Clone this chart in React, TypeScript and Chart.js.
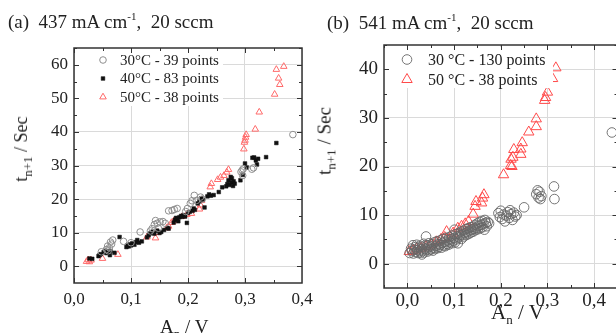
import React, { useEffect, useRef } from 'react';
import { Chart, registerables } from 'chart.js';

Chart.register(...registerables);

const SERIF = '"Liberation Serif", "Times New Roman", serif';

// ---------- Panel (a) : 437 mA cm-1, 20 sccm ----------
const A_X_TICKS = [0.0, 0.1, 0.2, 0.3, 0.4];
const A_Y_TICKS = [0, 10, 20, 30, 40, 50, 60];
const A_LABELS = ['30°C - 39 points', '40°C - 83 points', '50°C - 38 points'];

const A30_X = [0.048, 0.057, 0.059, 0.060, 0.062, 0.064, 0.066, 0.068, 0.087, 0.100, 0.116, 0.134, 0.137, 0.141, 0.143, 0.146, 0.148, 0.151, 0.156, 0.160, 0.166, 0.172, 0.176, 0.181, 0.196, 0.199, 0.204, 0.207, 0.211, 0.215, 0.222, 0.225, 0.293, 0.295, 0.296, 0.297, 0.312, 0.315, 0.384];
const A30_Y = [4.3, 5.0, 6.0, 4.6, 5.5, 7.2, 6.6, 7.8, 7.4, 7.0, 10.2, 10.5, 11.2, 12.4, 13.6, 12.8, 11.3, 13.2, 13.3, 12.8, 16.5, 16.6, 16.9, 17.2, 16.3, 17.2, 18.7, 19.5, 21.1, 19.6, 20.6, 20.0, 28.1, 28.6, 27.0, 29.0, 28.9, 29.3, 39.2];

const A40_X = [0.027, 0.032, 0.043, 0.045, 0.047, 0.052, 0.055, 0.057, 0.060, 0.063, 0.064, 0.071,
  0.080, 0.092, 0.094, 0.096, 0.098, 0.100, 0.102, 0.106,
  0.109, 0.111, 0.114, 0.119, 0.128, 0.131, 0.134, 0.138, 0.141, 0.146, 0.150, 0.153, 0.158,
  0.164, 0.166, 0.175, 0.177, 0.179, 0.181, 0.183, 0.185, 0.188, 0.190, 0.192, 0.195, 0.198, 0.200, 0.203,
  0.208, 0.210, 0.212, 0.217, 0.220, 0.223, 0.226, 0.229,
  0.234, 0.237, 0.240, 0.245, 0.254, 0.260,
  0.267, 0.269, 0.271, 0.273, 0.275, 0.276, 0.277, 0.279, 0.280, 0.282,
  0.292, 0.296, 0.300, 0.303, 0.313, 0.316, 0.319, 0.321, 0.323, 0.337, 0.355];
const A40_Y = [2.3, 2.2, 3.0, 3.4, 3.6, 4.2, 4.6, 3.9, 4.4, 3.3, 4.5, 4.0,
  8.7, 5.7, 6.2, 5.9, 6.5, 6.2, 6.8, 6.4,
  7.2, 7.8, 7.0, 7.4, 8.6, 9.2, 9.8, 10.3, 9.7, 10.6, 9.9, 10.2, 10.8,
  11.4, 11.2, 13.0, 13.8, 14.4, 14.0, 13.4, 14.6, 15.0, 14.7, 15.2, 14.8, 12.9, 15.9, 16.2,
  16.5, 17.2, 16.8, 18.7, 19.3, 20.2, 19.8, 17.5,
  20.8, 21.4, 21.0, 21.2, 22.1, 23.5,
  23.8, 24.5, 25.6, 24.2, 26.6, 25.0, 26.2, 23.9, 25.3, 24.6,
  25.6, 27.2, 30.6, 29.4, 32.3, 32.4, 31.5, 30.3, 32.0, 32.5, 36.7];

const A50_X = [0.022, 0.025, 0.027, 0.030, 0.050, 0.077, 0.128, 0.143, 0.146, 0.163, 0.166, 0.171, 0.175, 0.190, 0.198, 0.206, 0.220, 0.222, 0.224, 0.239, 0.241, 0.252, 0.257, 0.263, 0.268, 0.271, 0.298, 0.299, 0.300, 0.301, 0.302, 0.318, 0.325, 0.352, 0.355, 0.359, 0.361, 0.368];
const A50_Y = [1.4, 1.9, 1.3, 1.8, 2.3, 3.5, 8.7, 8.4, 10.0, 11.4, 11.9, 13.0, 13.5, 14.8, 15.4, 15.7, 17.0, 18.2, 19.6, 23.6, 24.6, 25.8, 26.5, 27.0, 28.0, 28.8, 34.9, 36.9, 37.5, 38.4, 39.2, 40.8, 45.9, 51.2, 58.6, 56.0, 54.1, 59.5];

// ---------- Panel (b) : 541 mA cm-1, 20 sccm ----------
const B_X_TICKS = [0.0, 0.1, 0.2, 0.3, 0.4];
const B_Y_TICKS = [0, 10, 20, 30, 40];
const B_LABELS = ['30 °C - 130 points', '50 °C - 38 points'];

const B30_X = [
  0.005, 0.008, 0.010, 0.012, 0.013, 0.015, 0.017, 0.018, 0.020, 0.021, 0.023, 0.024, 0.026, 0.027, 0.029, 0.030,
  0.031, 0.032, 0.034, 0.035, 0.036, 0.038, 0.040, 0.041, 0.042, 0.043, 0.045, 0.046, 0.048, 0.050, 0.051, 0.053, 0.055, 0.056, 0.058, 0.060,
  0.062, 0.063, 0.065, 0.066, 0.068, 0.070, 0.071, 0.073, 0.075, 0.076, 0.078, 0.080, 0.081, 0.083, 0.085, 0.086, 0.088, 0.090, 0.091, 0.093, 0.095, 0.096, 0.098, 0.100,
  0.101, 0.102, 0.104, 0.105, 0.107, 0.108, 0.110, 0.111, 0.113, 0.115, 0.116, 0.118, 0.120, 0.121, 0.123, 0.125, 0.126, 0.128, 0.130, 0.131, 0.133, 0.135, 0.136, 0.138,
  0.140, 0.141, 0.143, 0.145, 0.146, 0.148, 0.150, 0.151, 0.153, 0.155, 0.156, 0.158, 0.160, 0.161, 0.163, 0.165, 0.166, 0.168, 0.170, 0.172, 0.175,
  0.195, 0.198, 0.200, 0.203, 0.206, 0.209, 0.212, 0.215, 0.218, 0.220, 0.222, 0.225, 0.228, 0.231, 0.234, 0.250,
  0.276, 0.279, 0.281, 0.283, 0.285, 0.287, 0.314, 0.315,
  0.438];
const B30_Y = [
  2.2, 3.1, 2.6, 3.8, 2.1, 2.9, 3.4, 2.4, 3.9, 2.8, 2.2, 3.3, 2.6, 3.7, 2.3, 3.0,
  1.9, 3.5, 2.7, 4.1, 2.3, 3.1, 5.6, 2.9, 3.8, 2.5, 3.4, 4.2, 2.8, 3.6, 3.0, 4.0, 2.7, 3.3, 4.4, 3.1,
  3.7, 4.6, 3.2, 4.0, 3.5, 4.8, 3.9, 3.3, 4.3, 5.1, 3.8, 4.5, 3.6, 5.3, 4.1, 4.8, 3.9, 5.5, 4.4, 5.0, 4.2, 5.8, 4.7, 5.3,
  7.0, 4.4, 6.1, 5.0, 5.6, 4.2, 6.3, 5.4, 5.9, 6.6, 5.1, 6.0, 6.8, 5.6, 6.3, 7.1, 5.9, 6.5, 7.3, 6.1, 6.8, 7.5, 6.4, 7.0,
  7.6, 6.6, 7.2, 8.0, 6.9, 7.4, 8.3, 7.1, 7.8, 8.6, 7.3, 8.0, 8.8, 7.5, 8.2, 7.0, 9.0, 8.4, 7.7, 8.6, 8.3,
  10.4, 9.6, 10.9, 9.2, 10.1, 8.7, 9.9, 10.6, 9.4, 11.0, 10.2, 9.0, 10.5, 9.7, 10.0, 11.6,
  14.3, 15.1, 13.6, 14.8, 13.3, 13.9, 15.9, 13.3,
  27.0];

const B50_X = [0.004, 0.012, 0.020, 0.030, 0.040, 0.052, 0.062, 0.072, 0.080, 0.084, 0.098, 0.108, 0.116, 0.124, 0.131, 0.141, 0.145, 0.147, 0.159, 0.161, 0.164,
  0.206, 0.221, 0.224, 0.222, 0.226, 0.228, 0.243, 0.243, 0.246, 0.260, 0.276, 0.276, 0.294, 0.296, 0.300, 0.311, 0.318];
const B50_Y = [2.5, 2.7, 3.0, 3.2, 3.5, 3.9, 4.5, 5.0, 5.4, 6.6, 6.3, 7.3, 7.7, 8.2, 8.7, 10.2, 11.8, 12.8, 12.5, 13.5, 14.2,
  18.3, 20.2, 20.0, 21.5, 21.9, 23.5, 22.5, 23.6, 24.9, 27.1, 28.2, 29.8, 33.6, 34.2, 35.3, 38.1, 40.3];

// ---------- helpers ----------
type Mk = { style: 'circle' | 'rect' | 'triangle'; r: number; stroke: string; fill: string; lw: number };

function toPts(xs: number[], ys: number[]) {
  return xs.map((x, i) => ({ x, y: ys[i] }));
}

function drawMarker(ctx: CanvasRenderingContext2D, m: Mk, x: number, y: number) {
  ctx.beginPath();
  if (m.style === 'circle') {
    ctx.arc(x, y, m.r, 0, Math.PI * 2);
  } else if (m.style === 'rect') {
    const s = m.r * Math.SQRT1_2;
    ctx.rect(x - s, y - s, 2 * s, 2 * s);
  } else {
    for (let k = 0; k < 3; k++) {
      const a = (k * 2 * Math.PI) / 3;
      const px = x + Math.sin(a) * m.r;
      const py = y - Math.cos(a) * m.r;
      if (k === 0) ctx.moveTo(px, py);
      else ctx.lineTo(px, py);
    }
    ctx.closePath();
  }
  if (m.fill !== 'none') {
    ctx.fillStyle = m.fill;
    ctx.fill();
  }
  ctx.lineWidth = m.lw;
  ctx.strokeStyle = m.stroke;
  ctx.stroke();
}

type DecorCfg = {
  xMin: number; xMinor: number; xCount: number;
  yMin: number; yMinor: number; yCount: number;
  legend: { box: [number, number, number, number]; mx: number; tx: number; y0: number; dy: number; size: number; labels: string[]; markers: Mk[] };
};

function makeDecor(cfg: DecorCfg) {
  return {
    id: 'decor',
    afterDraw(chart: any) {
      const { ctx, chartArea: ca, scales } = chart;
      const sx = scales.x;
      const sy = scales.y;
      ctx.save();
      // legend
      const lg = cfg.legend;
      ctx.fillStyle = '#ffffff';
      ctx.fillRect(lg.box[0], lg.box[1], lg.box[2], lg.box[3]);
      lg.labels.forEach((lab, i) => {
        const yy = lg.y0 + i * lg.dy;
        drawMarker(ctx, lg.markers[i], lg.mx, yy);
        ctx.fillStyle = '#222';
        ctx.font = `${lg.size}px ${SERIF}`;
        ctx.textBaseline = 'middle';
        ctx.textAlign = 'left';
        ctx.fillText(lab, lg.tx, yy + 1);
      });
      // inward ticks (major at multiples of the labelled step)
      ctx.strokeStyle = '#333';
      ctx.lineWidth = 1;
      ctx.beginPath();
      for (let k = 0; k <= cfg.xCount; k++) {
        const v = cfg.xMin + k * cfg.xMinor;
        const px = Math.round(sx.getPixelForValue(v)) + 0.5;
        if (px < ca.left || px > ca.right) continue;
        const major = Math.abs(Math.round(v / (2 * cfg.xMinor)) * 2 * cfg.xMinor - v) < 1e-9;
        const len = major ? 5 : 3;
        ctx.moveTo(px, ca.bottom);
        ctx.lineTo(px, ca.bottom - len);
        ctx.moveTo(px, ca.top);
        ctx.lineTo(px, ca.top + len);
      }
      for (let k = 0; k <= cfg.yCount; k++) {
        const v = cfg.yMin + k * cfg.yMinor;
        const py = Math.round(sy.getPixelForValue(v)) + 0.5;
        if (py < ca.top || py > ca.bottom) continue;
        const major = Math.abs(Math.round(v / (2 * cfg.yMinor)) * 2 * cfg.yMinor - v) < 1e-9;
        const len = major ? 5 : 3;
        ctx.moveTo(ca.left, py);
        ctx.lineTo(ca.left + len, py);
        ctx.moveTo(ca.right, py);
        ctx.lineTo(ca.right - len, py);
      }
      ctx.stroke();
      // frame
      ctx.strokeStyle = '#333';
      ctx.lineWidth = 1.5;
      ctx.strokeRect(ca.left, ca.top, ca.right - ca.left, ca.bottom - ca.top);
      ctx.restore();
    },
  };
}

const fmtX = (v: any) => Number(v).toFixed(1).replace('.', ',');

function scaleOpts(p: {
  min: number; max: number; ticks: number[]; size: number; fontSize: number; padding: number; isX: boolean; fmt?: (v: any) => string;
}) {
  return {
    type: 'linear',
    min: p.min,
    max: p.max,
    afterBuildTicks: (s: any) => {
      s.ticks = p.ticks.map((v) => ({ value: v }));
    },
    afterFit: (s: any) => {
      if (p.isX) s.height = p.size;
      else s.width = p.size;
    },
    grid: { color: '#dadada', lineWidth: 1, drawTicks: false },
    border: { display: false },
    ticks: {
      autoSkip: false,
      maxRotation: 0,
      minRotation: 0,
      padding: p.padding,
      color: '#222',
      font: { family: SERIF, size: p.fontSize },
      callback: p.fmt ? p.fmt : (v: any) => String(v),
    },
  };
}

export default function App() {
  const refA = useRef<HTMLCanvasElement>(null);
  const refB = useRef<HTMLCanvasElement>(null);

  useEffect(() => {
    const mA: Mk[] = [
      { style: 'circle', r: 3.3, stroke: '#8f8f8f', fill: 'none', lw: 1 },
      { style: 'rect', r: 2.6, stroke: '#111', fill: '#111', lw: 0.5 },
      { style: 'triangle', r: 3.8, stroke: '#ff6a6a', fill: 'none', lw: 1 },
    ];
    const mB: Mk[] = [
      { style: 'circle', r: 4.8, stroke: '#666', fill: 'none', lw: 0.9 },
      { style: 'triangle', r: 6, stroke: '#ff4a4a', fill: 'none', lw: 1 },
    ];
    const ds = (label: string, data: any[], m: Mk) => ({
      label,
      data,
      pointStyle: m.style,
      pointRadius: m.r,
      pointBorderColor: m.stroke,
      pointBackgroundColor: m.fill === 'none' ? 'rgba(0,0,0,0)' : m.fill,
      pointBorderWidth: m.lw,
      showLine: false,
    });

    const chartA = new Chart(refA.current as HTMLCanvasElement, {
      type: 'scatter',
      data: {
        datasets: [
          ds(A_LABELS[0], toPts(A30_X, A30_Y), mA[0]),
          ds(A_LABELS[1], toPts(A40_X, A40_Y), mA[1]),
          ds(A_LABELS[2], toPts(A50_X, A50_Y), mA[2]),
        ],
      },
      options: {
        animation: false,
        responsive: false,
        devicePixelRatio: 1,
        events: [],
        layout: { padding: { left: 0, right: 18, top: 48, bottom: 0 } },
        plugins: { legend: { display: false }, tooltip: { enabled: false } },
        scales: {
          x: scaleOpts({ min: 0, max: 0.4, ticks: A_X_TICKS, size: 50, fontSize: 17, padding: 6, isX: true, fmt: fmtX }),
          y: scaleOpts({ min: -5, max: 65, ticks: A_Y_TICKS, size: 74, fontSize: 17, padding: 6, isX: false }),
        } as any,
      } as any,
      plugins: [
        makeDecor({
          xMin: 0, xMinor: 0.05, xCount: 8,
          yMin: -5, yMinor: 5, yCount: 14,
          legend: { box: [75, 49, 148, 57], mx: 103, tx: 120, y0: 60, dy: 18.5, size: 15, labels: A_LABELS, markers: mA },
        }),
      ],
    });

    const chartB = new Chart(refB.current as HTMLCanvasElement, {
      type: 'scatter',
      data: {
        datasets: [
          ds(B_LABELS[0], toPts(B30_X, B30_Y), mB[0]),
          ds(B_LABELS[1], toPts(B50_X, B50_Y), mB[1]),
        ],
      },
      options: {
        animation: false,
        responsive: false,
        devicePixelRatio: 1,
        events: [],
        layout: { padding: { left: 0, right: 12.5, top: 45, bottom: 0 } },
        plugins: { legend: { display: false }, tooltip: { enabled: false } },
        scales: {
          x: scaleOpts({ min: -0.05, max: 0.45, ticks: B_X_TICKS, size: 45, fontSize: 19, padding: 2, isX: true, fmt: fmtX }),
          y: scaleOpts({ min: -5, max: 45, ticks: B_Y_TICKS, size: 74, fontSize: 19, padding: 6, isX: false }),
        } as any,
      } as any,
      plugins: [
        makeDecor({
          xMin: -0.05, xMinor: 0.05, xCount: 10,
          yMin: -5, yMinor: 5, yCount: 10,
          legend: { box: [76, 47, 167, 41], mx: 97, tx: 118, y0: 59.5, dy: 20, size: 16, labels: B_LABELS, markers: mB },
        }),
      ],
    });

    return () => {
      chartA.destroy();
      chartB.destroy();
    };
  }, []);

  const abs = (s: any) => ({ position: 'absolute' as const, whiteSpace: 'pre' as const, ...s });
  const sup = { fontSize: 11, position: 'relative' as const, top: -8 };
  const sub = { fontSize: 13, position: 'relative' as const, top: 5 };
  const yTitle = (cx: number, cy: number, fs: number) =>
    abs({ left: cx, top: cy, fontSize: fs, lineHeight: `${fs}px`, transform: 'translate(-50%, -50%) rotate(-90deg)' });

  return (
    <div
      style={{
        position: 'fixed', left: 0, top: 0, width: 616, height: 333, overflow: 'hidden',
        background: '#fff', fontFamily: SERIF, color: '#222',
      }}
    >
      <canvas ref={refA} width={320} height={333} style={{ position: 'absolute', left: 0, top: 0 }} />
      <canvas ref={refB} width={320} height={333} style={{ position: 'absolute', left: 310, top: 0 }} />

      <div style={abs({ left: 8, top: 12, fontSize: 19, lineHeight: '19px' })}>
        (a)  437 mA cm<span style={sup}>-1</span>,  20 sccm
      </div>
      <div style={abs({ left: 327, top: 13, fontSize: 19, lineHeight: '19px' })}>
        (b)  541 mA cm<span style={sup}>-1</span>,  20 sccm
      </div>

      <div style={yTitle(22, 149, 18)}>
        t<span style={sub}>n+1</span> / Sec
      </div>
      <div style={yTitle(325, 141, 19)}>
        t<span style={sub}>n+1</span> / Sec
      </div>

      <div style={abs({ left: 160, top: 317, fontSize: 19, lineHeight: '19px' })}>
        A<span style={sub}>n</span> / V
      </div>
      <div style={abs({ left: 491, top: 302, fontSize: 21, lineHeight: '21px' })}>
        A<span style={sub}>n</span> / V
      </div>
    </div>
  );
}
